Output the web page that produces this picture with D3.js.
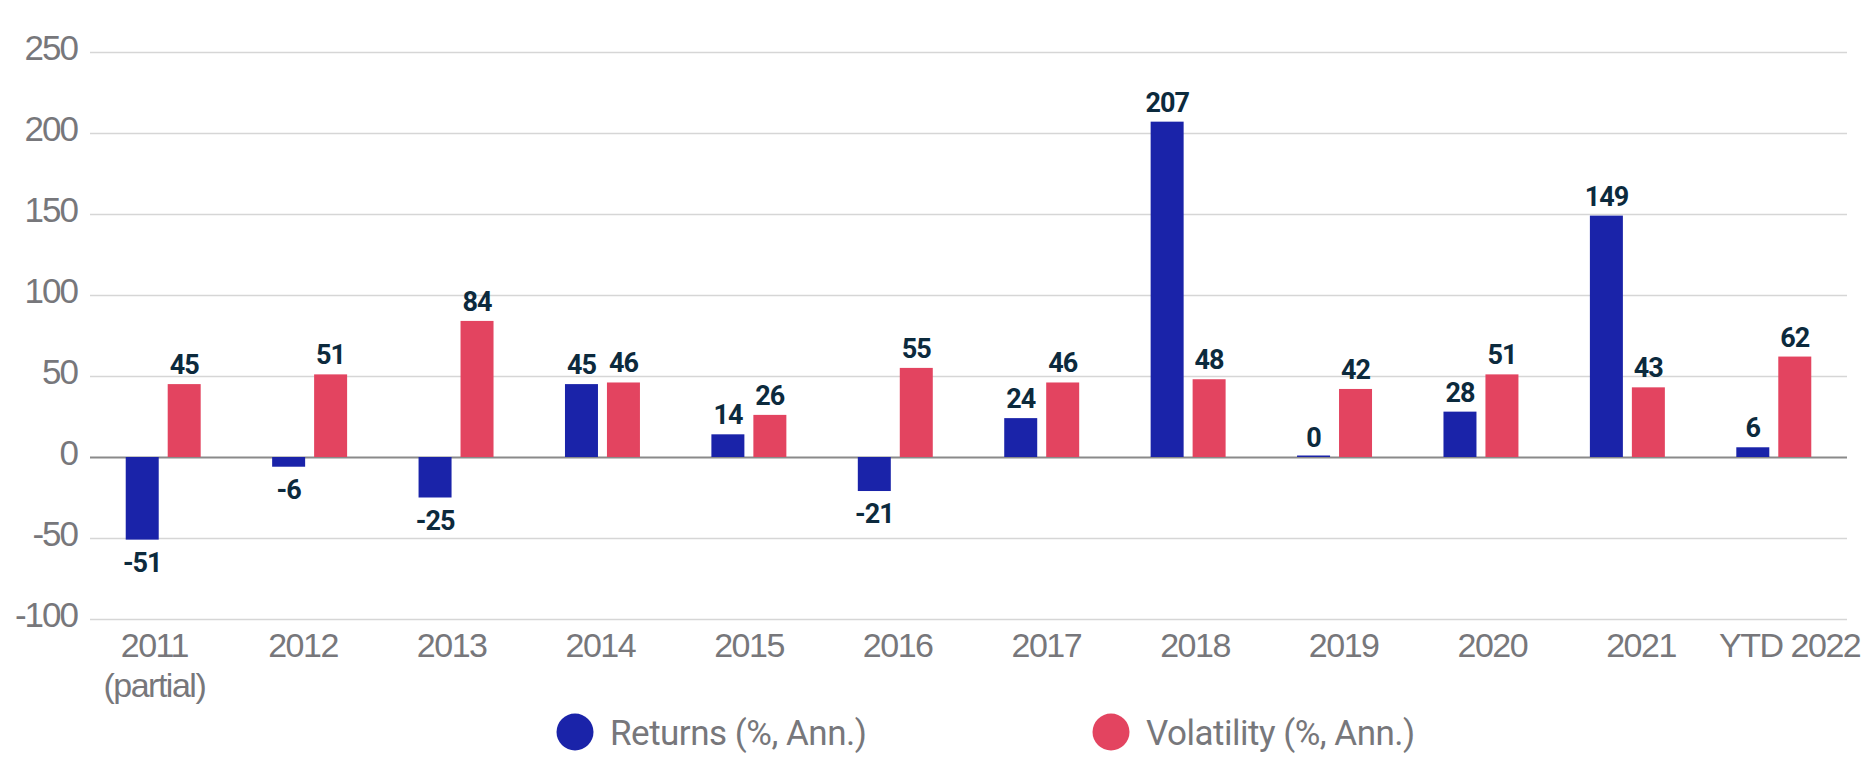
<!DOCTYPE html>
<html>
<head>
<meta charset="utf-8">
<script src="https://cdn.jsdelivr.net/npm/d3@7"></script>
<style>
  body { margin: 0; background: #fff; }
  svg { display: block; font-family: Roboto, "Noto Sans", sans-serif; }
</style>
</head>
<body>
<svg id="chart" width="1870" height="772"></svg>
<script>
// chart data
var categories = ["2011", "2012", "2013", "2014", "2015", "2016", "2017", "2018", "2019", "2020", "2021", "YTD 2022"];
var categoryNotes = ["(partial)", "", "", "", "", "", "", "", "", "", "", ""];
var returns = [-51, -6, -25, 45, 14, -21, 24, 207, 0, 28, 149, 6];
var volatility = [45, 51, 84, 46, 26, 55, 46, 48, 42, 51, 43, 62];
var yTicks = [-100, -50, 0, 50, 100, 150, 200, 250];
var seriesNames = ["Returns (%, Ann.)", "Volatility (%, Ann.)"];
var seriesColors = ["#1a23a9", "#e34460"];

var svg = d3.select("#chart");
var plotLeft = 90, plotRight = 1847, plotTop = 52, plotBottom = 619;

var y = d3.scaleLinear().domain([-100, 250]).range([plotBottom, plotTop]);
var x0 = d3.scaleBand().domain(categories).range([plotLeft, plotRight])
    .paddingInner(0.488).paddingOuter(0.244);
var x1 = d3.scaleBand().domain([0, 1]).range([0, x0.bandwidth()]).paddingInner(0.214);
// category labels sit on a slightly wider spread than the bars
var xLabel = d3.scaleBand().domain(categories).range([80, 1864]);

// y axis + gridlines
var yAxis = svg.append("g")
    .attr("transform", "translate(" + plotLeft + ",0)")
    .call(d3.axisLeft(y).tickValues(yTicks).tickFormat(String)
        .tickSize(-(plotRight - plotLeft)).tickPadding(13));
yAxis.select(".domain").remove();
yAxis.selectAll(".tick line")
    .attr("stroke", function (d) { return d === 0 ? "#8a8a8a" : "#d6d6d6"; })
    .attr("stroke-width", function (d) { return d === 0 ? 2 : 1.5; });
yAxis.selectAll(".tick text")
    .attr("dy", 7)
    .attr("fill", "#77777b")
    .style("font-size", "35px")
    .style("letter-spacing", "-2px");

// bars
var table = categories.map(function (c, i) { return { cat: c, values: [returns[i], volatility[i]] }; });

var groups = svg.append("g").selectAll("g")
    .data(table)
    .enter().append("g")
    .attr("transform", function (d) { return "translate(" + x0(d.cat) + ",0)"; });

groups.selectAll("rect")
    .data(function (d) { return d.values.map(function (v, k) { return { k: k, v: v }; }); })
    .enter().append("rect")
    .attr("x", function (d) { return x1(d.k); })
    .attr("width", x1.bandwidth())
    .attr("y", function (d) { return d.v === 0 ? y(0) - 1.5 : Math.min(y(d.v), y(0)); })
    .attr("height", function (d) { return d.v === 0 ? 1.5 : Math.abs(y(d.v) - y(0)); })
    .attr("fill", function (d) { return seriesColors[d.k]; });

groups.selectAll("text")
    .data(function (d) { return d.values.map(function (v, k) { return { k: k, v: v }; }); })
    .enter().append("text")
    .attr("x", function (d) { return x1(d.k) + x1.bandwidth() / 2; })
    .attr("y", function (d) { return d.v < 0 ? y(d.v) + 32 : y(d.v) - 10; })
    .attr("text-anchor", "middle")
    .attr("fill", "#0c2a3d")
    .style("font-size", "27px")
    .style("font-weight", "bold")
    .style("letter-spacing", "-1px")
    .text(function (d) { return d.v; });

// x labels
var xAxis = svg.append("g")
    .attr("transform", "translate(0," + plotBottom + ")")
    .call(d3.axisBottom(xLabel).tickSize(0).tickPadding(0));
xAxis.select(".domain").remove();
xAxis.selectAll(".tick text").remove();
xAxis.selectAll(".tick").each(function (d, i) {
    var t = d3.select(this).append("text")
        .attr("text-anchor", "middle")
        .attr("fill", "#77777b")
        .style("font-size", "34px")
        .style("letter-spacing", "-1.5px");
    t.append("tspan").attr("x", 0).attr("y", 38).text(d);
    if (categoryNotes[i]) t.append("tspan").attr("x", 0).attr("y", 78).text(categoryNotes[i]);
});

// legend
var legendX = [575, 1111];
var legend = svg.append("g").selectAll("g")
    .data(seriesNames)
    .enter().append("g")
    .attr("transform", function (d, i) { return "translate(" + legendX[i] + ",732)"; });
legend.append("circle").attr("r", 18.5).attr("fill", function (d, i) { return seriesColors[i]; });
legend.append("text")
    .attr("x", 35).attr("y", 13)
    .attr("fill", "#77777b")
    .style("font-size", "35px")
    .style("letter-spacing", "-0.5px")
    .text(function (d) { return d; });
</script>
</body>
</html>
